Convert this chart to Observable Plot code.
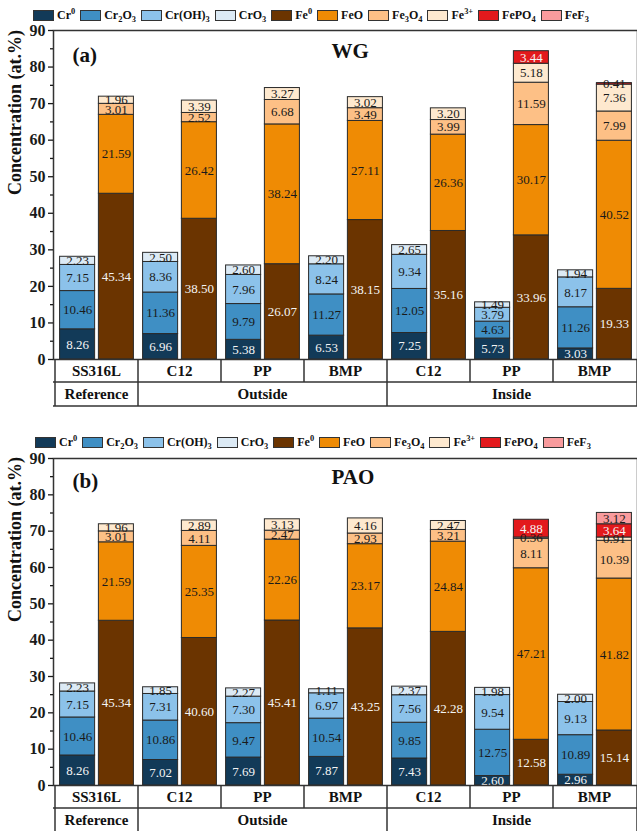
<!DOCTYPE html>
<html><head><meta charset="utf-8">
<script src="https://cdn.jsdelivr.net/npm/d3@7"></script>
<script src="https://cdn.jsdelivr.net/npm/@observablehq/plot@0.6"></script>
<style>
body{margin:0;background:#fff;font-family:'Liberation Serif','Times New Roman',serif;}
.legend{height:24px;box-sizing:border-box;padding-top:6px;display:flex;align-items:center;font-weight:bold;font-size:12px;color:#111;}
.item{display:flex;align-items:center;margin-right:5px;white-space:nowrap;}
.sw{width:21px;height:11px;box-sizing:border-box;border:1px solid #333;margin-right:3px;}
sub,sup{font-size:70%;line-height:0;}
</style></head><body>
<div id="legendA" class="legend" style="padding-left:33px"></div>
<div id="chartA"></div>
<div id="legendB" class="legend" style="padding-left:35px"></div>
<div id="chartB"></div>
<script>
// ---- categories ----
const groups = ["SS316L","C12","PP","BMP","C12","PP","BMP"];
const locations = ["Reference","Outside","Outside","Outside","Inside","Inside","Inside"];
const crSpecies = ["Cr⁰","Cr₂O₃","Cr(OH)₃","CrO₃"];
const feSpecies = ["Fe⁰","FeO","Fe₃O₄","Fe³⁺","FePO₄","FeF₃"];
const legendLabels = ["Cr<sup>0</sup>","Cr<sub>2</sub>O<sub>3</sub>","Cr(OH)<sub>3</sub>","CrO<sub>3</sub>","Fe<sup>0</sup>","FeO","Fe<sub>3</sub>O<sub>4</sub>","Fe<sup>3+</sup>","FePO<sub>4</sub>","FeF<sub>3</sub>"];
const speciesColors = ["#123a58","#3f8fc4","#8cc2ea","#dceaf5","#6b3400","#ef8b04","#fdc086","#fee9cf","#e3191c","#f99b9d"];
const lightText = ["Cr⁰","Fe⁰","FePO₄"];

// ---- (a) WG ----
const wgCr0   = [8.26,6.96,5.38,6.53,7.25,5.73,3.03];
const wgCr2O3 = [10.46,11.36,9.79,11.27,12.05,4.63,11.26];
const wgCrOH3 = [7.15,8.36,7.96,8.24,9.34,3.79,8.17];
const wgCrO3  = [2.23,2.50,2.60,2.20,2.65,1.49,1.94];
const wgFe0   = [45.34,38.50,26.07,38.15,35.16,33.96,19.33];
const wgFeO   = [21.59,26.42,38.24,27.11,26.36,30.17,40.52];
const wgFe3O4 = [3.01,2.52,6.68,3.49,3.99,11.59,7.99];
const wgFe3p  = [1.96,3.39,3.27,3.02,3.20,5.18,7.36];
const wgFePO4 = [0,0,0,0,0,3.44,0.41];
const wgFeF3  = [0,0,0,0,0,0,0];

// ---- (b) PAO ----
const paoCr0   = [8.26,7.02,7.69,7.87,7.43,2.60,2.96];
const paoCr2O3 = [10.46,10.86,9.47,10.54,9.85,12.75,10.89];
const paoCrOH3 = [7.15,7.31,7.30,6.97,7.56,9.54,9.13];
const paoCrO3  = [2.23,1.85,2.27,1.11,2.37,1.98,2.00];
const paoFe0   = [45.34,40.60,45.41,43.25,42.28,12.58,15.14];
const paoFeO   = [21.59,25.35,22.26,23.17,24.84,47.21,41.82];
const paoFe3O4 = [3.01,4.11,2.47,2.93,3.21,8.11,10.39];
const paoFe3p  = [1.96,2.89,3.13,4.16,2.47,0.36,0.91];
const paoFePO4 = [0,0,0,0,0,4.88,3.64];
const paoFeF3  = [0,0,0,0,0,0,3.12];

const allSpecies = crSpecies.concat(feSpecies);
const FONT = "'Liberation Serif','Times New Roman',serif";

function buildLegend(el) {
  allSpecies.forEach((s, i) => {
    const it = document.createElement("div"); it.className = "item";
    const sw = document.createElement("div"); sw.className = "sw"; sw.style.background = speciesColors[i];
    const tx = document.createElement("span"); tx.innerHTML = legendLabels[i];
    it.appendChild(sw); it.appendChild(tx); el.appendChild(it);
  });
}

function makePanel(crCols, feCols, tag, name, o) {
  const W = 637, ML = 53, MR = 0;
  const bw = (W - ML - MR) / groups.length;
  const outer = bw * 0.055, barW = bw * 0.425, inner = bw - outer - barW;
  const off = outer + barW / 2 - bw / 2;
  const crRows = [], feRows = [];
  groups.forEach((g, i) => {
    crSpecies.forEach((s, j) => { const v = crCols[j][i]; if (v > 0) crRows.push({key: i, species: s, value: v}); });
    feSpecies.forEach((s, j) => { const v = feCols[j][i]; if (v > 0) feRows.push({key: i, species: s, value: v}); });
  });
  const isLight = d => lightText.includes(d.species) && d.value >= 1;
  const lab = white => d => (isLight(d) === white ? d.value.toFixed(2) : "");
  const labels = (rows, dx) => [
    Plot.text(rows, Plot.stackY({x: "key", y: "value", z: "species", text: lab(true), fill: "#f4f4f4", dx, fontSize: 13})),
    Plot.text(rows, Plot.stackY({x: "key", y: "value", z: "species", text: lab(false), fill: "#1a1a1a", dx, fontSize: 13}))
  ];
  const plot = Plot.plot({
    width: W, height: o.height, marginTop: o.mt, marginBottom: o.mb, marginLeft: ML, marginRight: MR,
    style: {fontFamily: FONT, fontSize: "13px", background: "white", overflow: "visible"},
    x: {type: "band", domain: d3.range(groups.length), padding: 0, axis: null},
    y: {domain: [0, 90], axis: null},
    color: {domain: allSpecies, range: speciesColors},
    marks: [
      Plot.barY(crRows, {x: "key", y: "value", fill: "species", stroke: "#2a2a2a", strokeWidth: 1, insetLeft: outer, insetRight: inner}),
      Plot.barY(feRows, {x: "key", y: "value", fill: "species", stroke: "#2a2a2a", strokeWidth: 1, insetLeft: inner, insetRight: outer}),
      ...labels(crRows, off),
      ...labels(feRows, -off),
      Plot.frame({stroke: "#333", strokeWidth: 1.5}),
      Plot.axisY({ticks: d3.range(0, 91, 10), tickSize: 5, tickPadding: 3, fontSize: 16, fontWeight: "bold", label: null, color: "#1a1a1a", strokeWidth: 1.3}),
      Plot.axisY({ticks: d3.range(5, 90, 10), tickSize: 3, tickFormat: () => "", label: null, color: "#1a1a1a", strokeWidth: 1.3}),
      Plot.text(["Concentration (at.%)"], {text: d => d, frameAnchor: "left", rotate: -90, dx: -38, fontSize: 18, fontWeight: "bold", fill: "#111"}),
      Plot.text([tag], {text: d => d, frameAnchor: "top-left", textAnchor: "start", lineAnchor: "middle", dx: 19, dy: o.tagDy, fontSize: 21, fontWeight: "bold", fill: "#111"}),
      Plot.text([name], {text: d => d, frameAnchor: "top-left", textAnchor: "start", lineAnchor: "middle", dx: 278, dy: o.nameDy, fontSize: 21, fontWeight: "bold", fill: "#111"})
    ]
  });

  // category table beneath the axis, positioned from Plot's scales
  const sx = plot.scale("x"), sy = plot.scale("y");
  const y0 = sy.apply(0), y1 = y0 + 23, y2 = y1 + 24;
  const left = sx.range[0], right = sx.range[1], band = sx.bandwidth;
  const root = d3.select(plot);
  const g = root.append("g").attr("stroke", "#333").attr("stroke-width", 1.5).attr("fill", "none");
  [y1, y2].forEach(y => g.append("line").attr("x1", left).attr("x2", right).attr("y1", y).attr("y2", y));
  d3.range(groups.length + 1).forEach(i => {
    const x = i < groups.length ? sx.apply(i) : right;
    g.append("line").attr("x1", x).attr("x2", x).attr("y1", y0).attr("y2", y1);
  });
  const spans = [];
  locations.forEach((l, i) => {
    if (!spans.length || spans[spans.length - 1].name !== l) spans.push({name: l, start: i, end: i});
    else spans[spans.length - 1].end = i;
  });
  spans.forEach(s => {
    const x = sx.apply(s.start);
    g.append("line").attr("x1", x).attr("x2", x).attr("y1", y1).attr("y2", y2);
  });
  g.append("line").attr("x1", right).attr("x2", right).attr("y1", y1).attr("y2", y2);
  const t = root.append("g").attr("font-family", FONT).attr("font-weight", "bold").attr("font-size", 15)
    .attr("fill", "#111").attr("text-anchor", "middle");
  groups.forEach((gname, i) => {
    t.append("text").attr("x", sx.apply(i) + band / 2).attr("y", (y0 + y1) / 2).attr("dy", "0.35em").text(gname);
  });
  spans.forEach(s => {
    t.append("text").attr("x", (sx.apply(s.start) + sx.apply(s.end) + band) / 2).attr("y", (y1 + y2) / 2).attr("dy", "0.35em").text(s.name);
  });
  return plot;
}

buildLegend(document.getElementById("legendA"));
buildLegend(document.getElementById("legendB"));

document.getElementById("chartA").appendChild(makePanel(
  [wgCr0, wgCr2O3, wgCrOH3, wgCrO3],
  [wgFe0, wgFeO, wgFe3O4, wgFe3p, wgFePO4, wgFeF3],
  "(a)", "WG", {height: 403, mt: 6, mb: 68, tagDy: 25, nameDy: 21}));

document.getElementById("chartB").appendChild(makePanel(
  [paoCr0, paoCr2O3, paoCrOH3, paoCrO3],
  [paoFe0, paoFeO, paoFe3O4, paoFe3p, paoFePO4, paoFeF3],
  "(b)", "PAO", {height: 384, mt: 7, mb: 50, tagDy: 23, nameDy: 19}));
</script>
</body></html>
